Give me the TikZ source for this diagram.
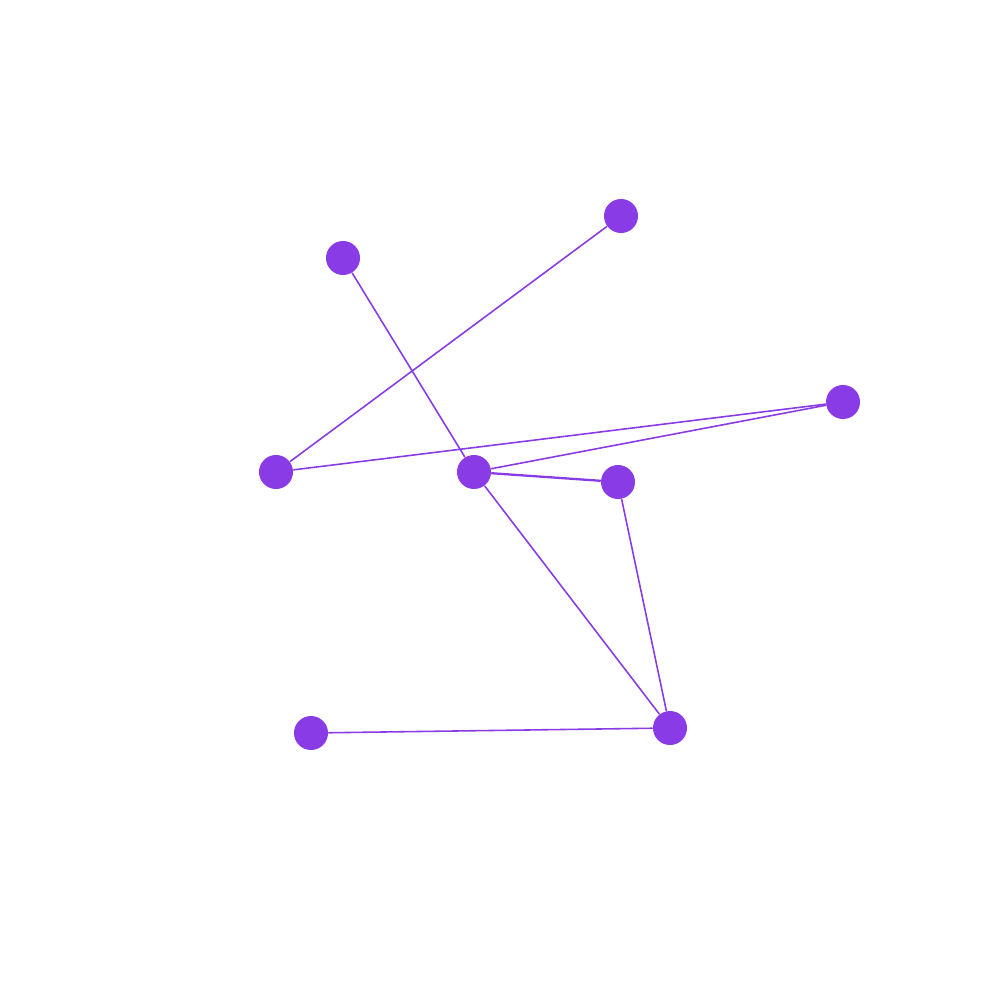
\documentclass[tikz,border=0pt]{standalone}
\usetikzlibrary{positioning}
\definecolor{vert}{RGB}{137,59,230}
\tikzset{
  every picture/.style={line cap=round, line join=round},
  % Knoten und Kanten
  vtx/.style={circle, fill=vert, inner sep=0pt, minimum size=0.34cm},
  edge/.style={vert, line width=0.45pt},
  heavy/.style={vert, line width=0.65pt},
}
\begin{document}
\begin{tikzpicture}[x=0.01cm, y=-0.01cm]
  \useasboundingbox (0,0) rectangle (1000,1000);
  % Knoten
  \node[vtx] (a) at (343,258) {};
  \node[vtx] (b) at (621,216) {};
  \node[vtx] (c) at (843,402) {};
  \node[vtx] (d) at (276,472) {};
  \node[vtx] (e) at (474,472) {};
  \node[vtx] (f) at (618,482) {};
  \node[vtx] (g) at (670,728) {};
  \node[vtx] (h) at (311,733) {};
  % Kanten
  \draw[edge] (a) -- (e);
  \draw[edge] (b) -- (d);
  \draw[edge] (d) -- (c);
  \draw[edge] (e) -- (c);
  \draw[heavy] (e) -- (f);
  \draw[edge] (e) -- (g);
  \draw[edge] (f) -- (g);
  \draw[edge] (h) -- (g);
\end{tikzpicture}
\end{document}
